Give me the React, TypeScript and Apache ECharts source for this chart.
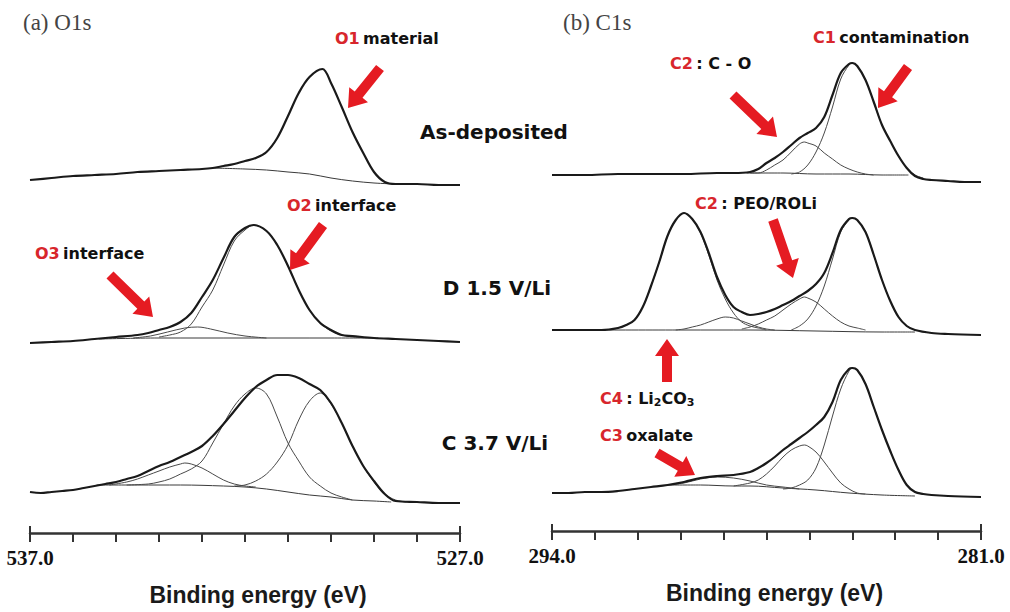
import React, { useEffect, useRef } from "react";
import * as echarts from "echarts";

// ---------- O1s panel data: [binding energy (eV), intensity above stack offset] ----------
const O1S_OFFSETS = { asDep: 345, d15: 188, c37: 28 };
const o1sAsDepEnv = [[537.0,8],[536.5,10],[536.0,12],[535.5,13],[535.0,14],[534.5,16],[534.0,17],[533.5,18],[533.0,19],[532.75,20],[532.5,22],[532.25,24],[532.0,27],[531.75,30],[531.5,36],[531.25,50],[531.0,72],[530.75,95],[530.5,111],[530.2,119],[530.0,105],[529.75,81],[529.5,56],[529.25,35],[529.0,16],[528.75,6],[528.5,4],[528.0,4],[527.5,3],[527.0,3]];
const o1sAsDepBg = [[532.75,20],[532.0,19],[531.5,18],[531.0,16],[530.5,14],[530.0,10],[529.5,7],[529.0,5],[528.5,4]];

const o1sD15Env = [[537.0,2],[536.5,3],[536.0,4],[535.5,6],[535.0,8],[534.5,10],[534.25,12],[534.0,15],[533.75,18],[533.5,23],[533.25,32],[533.0,48],[532.75,65],[532.5,87],[532.25,108],[532.0,117],[531.8,120],[531.5,114],[531.25,100],[531.0,79],[530.75,55],[530.5,35],[530.25,22],[530.0,15],[529.75,10],[529.5,9],[529.0,7],[528.5,6],[528.0,5],[527.5,4],[527.0,3]];
const o1sD15Bg = [[535.4,6],[534.0,7],[532.0,7],[530.0,7],[528.9,7]];
const o1sD15O2 = [[534.0,8],[533.75,10],[533.5,13],[533.25,21],[533.0,38],[532.75,55],[532.5,80],[532.25,104],[532.0,115],[531.8,120],[531.5,114],[531.25,100],[531.0,79],[530.75,55],[530.5,35],[530.25,22],[530.0,14],[529.75,10],[529.5,8],[529.0,7]];
const o1sD15O3 = [[534.6,7],[534.2,9],[533.8,13],[533.4,17],[533.1,18],[532.8,16],[532.4,12],[532.0,9],[531.5,7]];

const o1sC37Env = [[537.0,13],[536.75,12],[536.5,13],[536.25,14],[536.0,15],[535.75,17],[535.5,19],[535.25,21],[535.0,23],[534.75,26],[534.5,29],[534.25,34],[534.0,39],[533.75,43],[533.5,48],[533.25,53],[533.0,59],[532.75,69],[532.5,81],[532.25,94],[532.0,107],[531.75,118],[531.5,125],[531.25,130],[531.0,130],[530.75,127],[530.5,121],[530.25,115],[530.0,102],[529.75,82],[529.5,59],[529.25,39],[529.0,24],[528.75,11],[528.5,4],[528.0,3],[527.5,2],[527.0,2]];
const o1sC37Bg = [[535.45,20],[534.5,20],[533.5,20],[532.5,19],[532.0,18],[531.5,16],[531.0,13],[530.5,10],[530.0,8],[529.5,5],[529.0,4],[528.6,3]];
const o1sC37A = [[535.15,20],[534.75,23],[534.5,26],[534.25,30],[534.0,34],[533.75,38],[533.5,41],[533.4,42],[533.25,41],[533.0,37],[532.75,31],[532.5,25],[532.25,21],[532.0,19],[531.75,18]];
const o1sC37B = [[534.75,20],[534.25,21],[534.0,23],[533.75,26],[533.5,31],[533.25,36],[533.0,44],[532.75,62],[532.5,81],[532.25,99],[532.0,111],[531.75,117],[531.5,111],[531.25,88],[531.0,62],[530.75,44],[530.5,28],[530.25,19],[530.0,12],[529.75,8],[529.5,5]];
const o1sC37C = [[532.25,19],[532.0,20],[531.75,24],[531.5,31],[531.25,43],[531.0,60],[530.75,85],[530.5,104],[530.25,112],[530.0,101],[529.75,82],[529.5,59],[529.25,39],[529.0,23],[528.75,11],[528.5,5],[528.25,3]];

// ---------- C1s panel data ----------
const C1S_OFFSETS = { asDep: 348, d15: 196, c37: 34 };
const c1sAsDepEnv = [[294.0,8],[293.0,8],[292.0,9],[291.0,9],[290.0,9],[289.0,10],[288.5,10],[288.0,11],[287.75,14],[287.5,20],[287.25,25],[287.0,31],[286.75,38],[286.5,45],[286.25,50],[286.0,55],[285.75,66],[285.5,88],[285.25,110],[285.0,119],[284.9,120],[284.75,117],[284.5,103],[284.25,81],[284.0,58],[283.75,42],[283.5,27],[283.25,15],[283.0,7],[282.75,4],[282.5,3],[282.0,2],[281.5,1],[281.0,1]];
const c1sAsDepBg = [[288.1,10],[287.0,10],[286.0,9],[285.0,9],[284.0,8],[283.2,8]];
const c1sAsDepC2 = [[288.0,10],[287.75,10],[287.5,13],[287.25,18],[287.0,23],[286.75,31],[286.5,39],[286.35,41],[286.25,40],[286.0,37],[285.75,30],[285.5,24],[285.25,18],[285.0,14],[284.75,11],[284.5,9],[284.25,8]];
const c1sAsDepC1 = [[286.75,9],[286.5,11],[286.25,18],[286.0,31],[285.75,50],[285.5,76],[285.25,104],[285.0,118],[284.9,120],[284.75,117],[284.5,103],[284.25,81],[284.0,58],[283.75,42],[283.5,27],[283.25,15],[283.0,8],[282.75,5]];

const c1sD15Env = [[294.0,5],[293.0,5],[292.5,5],[292.0,7],[291.75,10],[291.5,15],[291.25,28],[291.0,49],[290.75,73],[290.5,99],[290.25,115],[290.0,122],[289.75,116],[289.5,103],[289.25,82],[289.0,58],[288.75,40],[288.5,28],[288.25,23],[288.0,20],[287.75,21],[287.5,23],[287.25,26],[287.0,30],[286.75,34],[286.5,39],[286.25,44],[286.0,51],[285.75,62],[285.5,82],[285.25,105],[285.0,116],[284.9,117],[284.75,115],[284.5,103],[284.25,80],[284.0,55],[283.75,34],[283.5,18],[283.25,9],[283.0,5],[282.5,2],[282.0,1],[281.0,0]];
const c1sD15Bg = [[292.5,5],[290.0,5],[288.0,5],[286.0,4],[284.0,3],[283.0,3]];
const c1sD15C4 = [[292.25,5],[292.0,7],[291.75,10],[291.5,15],[291.25,28],[291.0,49],[290.75,73],[290.5,99],[290.25,115],[290.0,122],[289.75,116],[289.5,102],[289.25,80],[289.0,55],[288.75,36],[288.5,22],[288.25,13],[288.0,9],[287.75,7],[287.5,5]];
const c1sD15C3 = [[290.25,5],[290.0,6],[289.75,8],[289.5,10],[289.25,13],[289.0,16],[288.75,18],[288.5,17],[288.25,14],[288.0,11],[287.75,8],[287.5,6],[287.25,5]];
const c1sD15C2 = [[288.25,6],[288.0,8],[287.75,11],[287.5,15],[287.25,19],[287.0,25],[286.75,31],[286.5,36],[286.35,38],[286.25,37],[286.0,33],[285.75,26],[285.5,19],[285.25,13],[285.0,9],[284.75,7],[284.5,5]];
const c1sD15C1 = [[286.75,5],[286.5,9],[286.25,16],[286.0,29],[285.75,49],[285.5,76],[285.25,103],[285.0,115],[284.9,117],[284.75,115],[284.5,103],[284.25,80],[284.0,55],[283.75,34],[283.5,18],[283.25,9],[283.0,5]];

const c1sC37Env = [[294.0,4],[293.5,4],[293.0,5],[292.5,5],[292.0,6],[291.5,8],[291.0,10],[290.5,12],[290.0,15],[289.5,19],[289.0,21],[288.5,22],[288.0,25],[287.75,29],[287.5,34],[287.25,40],[287.0,47],[286.75,53],[286.5,59],[286.25,65],[286.0,72],[285.75,80],[285.5,95],[285.25,117],[285.0,128],[284.9,129],[284.75,127],[284.5,113],[284.25,90],[284.0,67],[283.75,46],[283.5,27],[283.25,12],[283.0,5],[282.75,3],[282.5,2],[282.0,1],[281.0,0]];
const c1sC37Bg = [[290.5,12],[289.5,12],[288.5,11],[288.0,11],[287.0,9],[286.0,7],[285.0,4],[284.0,2],[283.0,1]];
const c1sC37C1 = [[287.0,8],[286.75,9],[286.5,12],[286.25,17],[286.0,29],[285.75,52],[285.5,81],[285.25,108],[285.0,126],[284.9,129],[284.75,127],[284.5,113],[284.25,90],[284.0,67],[283.75,46],[283.5,27],[283.25,12],[283.0,5],[282.75,3]];
const c1sC37C2 = [[288.5,11],[288.0,14],[287.75,17],[287.5,23],[287.25,31],[287.0,40],[286.75,47],[286.5,51],[286.35,52],[286.25,51],[286.0,45],[285.75,35],[285.5,24],[285.25,14],[285.0,8],[284.75,4],[284.5,3]];
const c1sC37C3 = [[290.5,12],[290.0,14],[289.5,18],[289.0,20],[288.5,19],[288.0,16],[287.5,12],[287.0,10],[286.5,8]];

// ---------- axis ticks ----------
const o1sTicks = [527, 528, 529, 530, 531, 532, 533, 534, 535, 536, 537];
const o1sLabels = [527, 537];
const c1sTicks = [281.0, 282.3, 283.6, 284.9, 286.2, 287.5, 288.8, 290.1, 291.4, 292.7, 294.0];
const c1sLabels = [281, 294];

const RED = "#d8262c";
const ARROW_RED = "#e51b22";
const LABEL_FONT = "DejaVu Sans";

function arrowPts(x1: number, y1: number, x2: number, y2: number) {
  const dx = x2 - x1, dy = y2 - y1;
  const L = Math.sqrt(dx * dx + dy * dy);
  const ux = dx / L, uy = dy / L;
  const px = -uy, py = ux;
  const sw = 5, hw = 12, hl = 17;
  const bx = x2 - ux * hl, by = y2 - uy * hl;
  return [
    [x1 + px * sw, y1 + py * sw],
    [bx + px * sw, by + py * sw],
    [bx + px * hw, by + py * hw],
    [x2, y2],
    [bx - px * hw, by - py * hw],
    [bx - px * sw, by - py * sw],
    [x1 - px * sw, y1 - py * sw],
  ];
}

export default function App() {
  const ref = useRef<HTMLDivElement>(null);
  useEffect(() => {
    if (!ref.current) return;
    const chart = echarts.init(ref.current, null, { renderer: "svg" });

    const envStyle = { color: "#1a1a1a", width: 2.2 };
    const compStyle = { color: "#4a4a4a", width: 1 };
    const bgStyle = { color: "#3a3a3a", width: 1 };
    const mk = (data: number[][], off: number, ax: number, style: any, z = 2) => ({
      type: "line",
      xAxisIndex: ax,
      yAxisIndex: ax,
      data: data.map(([e, v]) => [e, v + off]),
      showSymbol: false,
      symbol: "none",
      smooth: 0.35,
      lineStyle: style,
      silent: true,
      z,
    });

    const series = [
      mk(o1sAsDepBg, O1S_OFFSETS.asDep, 0, bgStyle),
      mk(o1sAsDepEnv, O1S_OFFSETS.asDep, 0, envStyle, 5),
      mk(o1sD15Bg, O1S_OFFSETS.d15, 0, bgStyle),
      mk(o1sD15O3, O1S_OFFSETS.d15, 0, compStyle),
      mk(o1sD15O2, O1S_OFFSETS.d15, 0, compStyle),
      mk(o1sD15Env, O1S_OFFSETS.d15, 0, envStyle, 5),
      mk(o1sC37Bg, O1S_OFFSETS.c37, 0, bgStyle),
      mk(o1sC37A, O1S_OFFSETS.c37, 0, compStyle),
      mk(o1sC37B, O1S_OFFSETS.c37, 0, compStyle),
      mk(o1sC37C, O1S_OFFSETS.c37, 0, compStyle),
      mk(o1sC37Env, O1S_OFFSETS.c37, 0, envStyle, 5),

      mk(c1sAsDepBg, C1S_OFFSETS.asDep, 2, bgStyle),
      mk(c1sAsDepC2, C1S_OFFSETS.asDep, 2, compStyle),
      mk(c1sAsDepC1, C1S_OFFSETS.asDep, 2, compStyle),
      mk(c1sAsDepEnv, C1S_OFFSETS.asDep, 2, envStyle, 5),
      mk(c1sD15Bg, C1S_OFFSETS.d15, 2, bgStyle),
      mk(c1sD15C3, C1S_OFFSETS.d15, 2, compStyle),
      mk(c1sD15C2, C1S_OFFSETS.d15, 2, compStyle),
      mk(c1sD15C4, C1S_OFFSETS.d15, 2, compStyle),
      mk(c1sD15C1, C1S_OFFSETS.d15, 2, compStyle),
      mk(c1sD15Env, C1S_OFFSETS.d15, 2, envStyle, 5),
      mk(c1sC37Bg, C1S_OFFSETS.c37, 2, bgStyle),
      mk(c1sC37C3, C1S_OFFSETS.c37, 2, compStyle),
      mk(c1sC37C2, C1S_OFFSETS.c37, 2, compStyle),
      mk(c1sC37C1, C1S_OFFSETS.c37, 2, compStyle),
      mk(c1sC37Env, C1S_OFFSETS.c37, 2, envStyle, 5),
    ];

    const axisColor = "#333";
    const mainX = (grid: number, min: number, max: number, ticks: number[], labels: number[], pad: number) => ({
      type: "value",
      gridIndex: grid,
      min,
      max,
      inverse: true,
      axisLine: { show: true, lineStyle: { color: axisColor, width: 2.5 } },
      axisTick: { show: true, inside: false, length: 9, customValues: ticks, lineStyle: { color: axisColor, width: 2 } },
      axisLabel: {
        show: true,
        customValues: labels,
        formatter: (v: number) => v.toFixed(1),
        margin: 14,
        fontFamily: "Liberation Serif",
        fontWeight: 700,
        fontSize: 21,
        color: "#111",
      },
      splitLine: { show: false },
      name: "Binding energy (eV)",
      nameLocation: "middle",
      nameGap: 50,
      nameTextStyle: {
        fontFamily: "Liberation Sans",
        fontWeight: "bold",
        fontSize: 23,
        color: "#1a1a1a",
        padding: [0, 0, 0, pad],
      },
    });
    const endX = (grid: number, min: number, max: number, ends: number[]) => ({
      type: "value",
      gridIndex: grid,
      min,
      max,
      inverse: true,
      axisLine: { show: false },
      axisTick: { show: true, inside: true, length: 7, customValues: ends, lineStyle: { color: axisColor, width: 2 } },
      axisLabel: { show: false },
      splitLine: { show: false },
    });
    const hiddenY = (grid: number, max: number) => ({
      type: "value",
      gridIndex: grid,
      min: 0,
      max,
      show: false,
      splitLine: { show: false },
    });

    const textEl = (x: number, y: number, text: string, rich: any, align = "left") => ({
      type: "text",
      x,
      y,
      silent: true,
      z: 10,
      style: {
        text,
        rich,
        align,
        textAlign: align,
        verticalAlign: "middle",
        textVerticalAlign: "middle",
      },
    });
    const richBase = {
      r: { fill: RED, fontSize: 16, fontWeight: "bold", fontFamily: LABEL_FONT, lineHeight: 20 },
      k: { fill: "#111", fontSize: 16, fontWeight: "bold", fontFamily: LABEL_FONT, lineHeight: 20 },
      s: { fill: "#111", fontSize: 11, fontWeight: "bold", fontFamily: LABEL_FONT, lineHeight: 10, verticalAlign: "bottom" },
    };
    const bigRich = {
      b: { fill: "#111", fontSize: 20, fontWeight: "bold", fontFamily: LABEL_FONT, lineHeight: 24 },
    };
    const serifRich = {
      t: { fill: "#444", fontSize: 23, fontFamily: "Liberation Serif", lineHeight: 26 },
    };

    const arrows = [
      [380, 68, 348, 108],
      [323, 225, 290, 270],
      [110, 275, 153, 317],
      [733, 95, 777, 137],
      [908, 67, 878, 108],
      [773, 220, 793, 278],
      [667, 382, 667, 339],
      [657, 453, 695, 475],
    ];

    const graphic = [
      textEl(23, 22, "{t|(a) O1s}", serifRich),
      textEl(563, 22, "{t|(b) C1s}", serifRich),
      textEl(494, 132, "{b|As-deposited}", bigRich, "center"),
      textEl(497, 288, "{b|D 1.5 V/Li}", bigRich, "center"),
      textEl(495, 443, "{b|C 3.7 V/Li}", bigRich, "center"),
      textEl(335, 38, "{r|O1} {k|material}", richBase),
      textEl(287, 205, "{r|O2} {k|interface}", richBase),
      textEl(35, 253, "{r|O3} {k|interface}", richBase),
      textEl(670, 63, "{r|C2} {k|: C - O}", richBase),
      textEl(813, 37, "{r|C1} {k|contamination}", richBase),
      textEl(695, 203, "{r|C2} {k|: PEO/ROLi}", richBase),
      textEl(600, 398, "{r|C4} {k|: Li}{s|2}{k|CO}{s|3}", richBase),
      textEl(600, 435, "{r|C3} {k|oxalate}", richBase),
      ...arrows.map(([x1, y1, x2, y2]) => ({
        type: "polygon",
        silent: true,
        z: 9,
        shape: { points: arrowPts(x1, y1, x2, y2) },
        style: { fill: ARROW_RED },
      })),
    ];

    chart.setOption({
      animation: false,
      backgroundColor: "#ffffff",
      grid: [
        { left: 30, right: 550, top: 0, bottom: 79 },
        { left: 30, right: 550, top: 0, bottom: 79 },
        { left: 552, right: 29, top: 0, bottom: 81 },
        { left: 552, right: 29, top: 0, bottom: 81 },
      ],
      xAxis: [
        mainX(0, 527, 537, o1sTicks, o1sLabels, 26),
        endX(1, 527, 537, [527, 537]),
        mainX(2, 281, 294, c1sTicks, c1sLabels, 16),
        endX(3, 281, 294, [281, 294]),
      ],
      yAxis: [hiddenY(0, 533), hiddenY(1, 533), hiddenY(2, 531), hiddenY(3, 531)],
      series,
      graphic,
    });
    return () => chart.dispose();
  }, []);
  return (
    <div
      ref={ref}
      style={{ position: "fixed", left: 0, top: 0, width: 1010, height: 612, background: "#fff" }}
    />
  );
}
